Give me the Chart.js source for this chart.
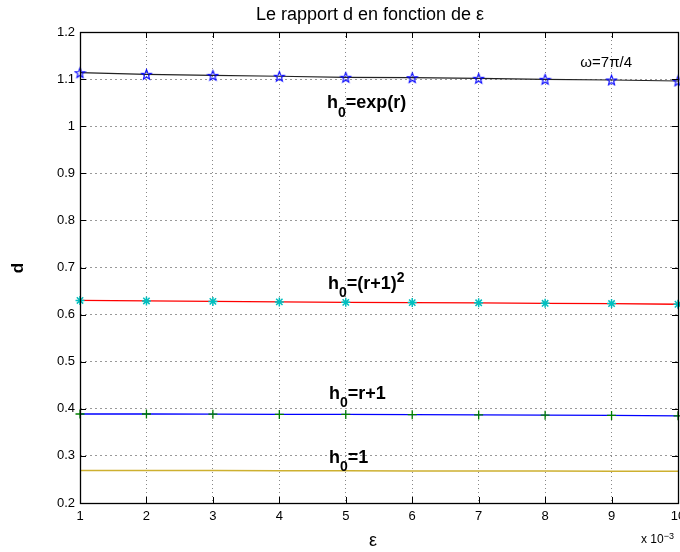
<!DOCTYPE html>
<html>
<head>
<meta charset="utf-8">
<script src="https://cdn.jsdelivr.net/npm/chart.js@4.4.1/dist/chart.umd.min.js"></script>
<style>
  html, body { margin: 0; padding: 0; background: #fff; }
</style>
</head>
<body>
<canvas id="rapportChart" width="680" height="552"></canvas>
<script>
// epsilon (x 10^-3)
const epsValues = [1, 2, 3, 4, 5, 6, 7, 8, 9, 10];

// d for each h0
const dExp    = [1.1136, 1.1102, 1.108, 1.106, 1.1038, 1.103, 1.1017, 1.0996, 1.0981, 1.096];
const dSquare = [0.630, 0.629, 0.628, 0.627, 0.626, 0.6255, 0.625, 0.624, 0.6235, 0.622];
const dLinear = [0.389, 0.389, 0.3885, 0.388, 0.388, 0.3875, 0.387, 0.3865, 0.386, 0.385];
const dConst  = [0.269, 0.269, 0.2688, 0.2686, 0.2684, 0.2682, 0.268, 0.2678, 0.2676, 0.2675];

const xTicks = [1, 2, 3, 4, 5, 6, 7, 8, 9, 10];
const yTicks = [0.2, 0.3, 0.4, 0.5, 0.6, 0.7, 0.8, 0.9, 1.0, 1.1, 1.2];

const FONT = '"Liberation Sans", Arial, Helvetica, sans-serif';

// blue 5-point star marker
const starImg = document.createElement('canvas');
starImg.width = 13; starImg.height = 13;
const sctx = starImg.getContext('2d');
sctx.strokeStyle = '#0000ff';
sctx.lineWidth = 1.1;
sctx.beginPath();
for (let i = 0; i < 10; i++) {
  const r = i % 2 === 0 ? 5.2 : 2.2;
  const a = -Math.PI / 2 + i * Math.PI / 5;
  const px = 6.5 + r * Math.cos(a), py = 7 + r * Math.sin(a);
  if (i === 0) sctx.moveTo(px, py); else sctx.lineTo(px, py);
}
sctx.closePath();
sctx.stroke();

function toPoints(ys) {
  return epsValues.map((x, i) => ({ x: x, y: ys[i] }));
}

// text with sub/superscripts
function drawRich(ctx, parts, x, y, size, bold) {
  let cx = x;
  parts.forEach(p => {
    const small = p.sub || p.sup;
    const fs = small ? Math.round(size * 0.75) : size;
    ctx.font = (bold ? 'bold ' : '') + fs + 'px ' + FONT;
    const dy = p.sub ? size * 0.47 : (p.sup ? -size * 0.36 : 0);
    ctx.fillText(p.t, cx, y + dy);
    cx += ctx.measureText(p.t).width;
  });
}

const decorations = {
  id: 'decorations',
  afterDraw(chart) {
    const ctx = chart.ctx;
    const area = chart.chartArea;
    const xs = chart.scales.x, ys = chart.scales.y;
    ctx.save();

    // box
    ctx.strokeStyle = '#000';
    ctx.lineWidth = 1.3;
    ctx.strokeRect(Math.round(area.left) + 0.5, Math.round(area.top) + 0.5,
      Math.round(area.right - area.left), Math.round(area.bottom - area.top));

    // inward ticks on all sides
    ctx.lineWidth = 1;
    ctx.beginPath();
    xTicks.forEach(v => {
      const px = Math.round(xs.getPixelForValue(v)) + 0.5;
      ctx.moveTo(px, area.bottom); ctx.lineTo(px, area.bottom - 6);
      ctx.moveTo(px, area.top); ctx.lineTo(px, area.top + 6);
    });
    yTicks.forEach(v => {
      const py = Math.round(ys.getPixelForValue(v)) + 0.5;
      ctx.moveTo(area.left, py); ctx.lineTo(area.left + 6, py);
      ctx.moveTo(area.right, py); ctx.lineTo(area.right - 6, py);
    });
    ctx.stroke();

    ctx.fillStyle = '#000';
    ctx.textBaseline = 'alphabetic';

    // x tick labels (drawn here so the last one may run past the edge)
    ctx.font = '13px ' + FONT;
    ctx.textAlign = 'center';
    xTicks.forEach(v => {
      ctx.fillText(String(v), xs.getPixelForValue(v), area.bottom + 17);
    });

    // title
    ctx.font = '18px ' + FONT;
    ctx.fillText('Le rapport d en fonction de \u03b5', 370, 20);

    // x label
    ctx.font = '18px ' + FONT;
    ctx.fillText('\u03b5', 373, 546);

    // y label
    ctx.save();
    ctx.translate(23, 268);
    ctx.rotate(-Math.PI / 2);
    ctx.font = 'bold 17px ' + FONT;
    ctx.fillText('d', 0, 0);
    ctx.restore();

    // exponent
    ctx.textAlign = 'left';
    drawRich(ctx, [{ t: 'x 10' }, { t: '\u22123', sup: true }], 641, 543, 12, false);

    // curve labels
    const labels = [
      { x: 8.53, y: 1.1263, parts: [{ t: '\u03c9=7\u03c0/4' }], size: 15, bold: false },
      { x: 4.718, y: 1.038, parts: [{ t: 'h' }, { t: '0', sub: true }, { t: '=exp(r)' }], size: 18, bold: true },
      { x: 4.733, y: 0.655, parts: [{ t: 'h' }, { t: '0', sub: true }, { t: '=(r+1)' }, { t: '2', sup: true }], size: 18, bold: true },
      { x: 4.748, y: 0.4215, parts: [{ t: 'h' }, { t: '0', sub: true }, { t: '=r+1' }], size: 18, bold: true },
      { x: 4.748, y: 0.285, parts: [{ t: 'h' }, { t: '0', sub: true }, { t: '=1' }], size: 18, bold: true }
    ];
    labels.forEach(l => {
      drawRich(ctx, l.parts, xs.getPixelForValue(l.x), ys.getPixelForValue(l.y), l.size, l.bold);
    });

    ctx.restore();
  }
};

const data = {
  datasets: [
    {
      label: 'h0=1',
      data: toPoints(dConst),
      borderColor: '#cdb030',
      borderWidth: 1.5,
      pointRadius: 0,
      clip: false
    },
    {
      label: 'h0=r+1',
      data: toPoints(dLinear),
      borderColor: '#0000ff',
      borderWidth: 1.3,
      pointStyle: 'cross',
      pointRadius: 4.5,
      pointBorderColor: '#008000',
      pointBorderWidth: 1.3,
      clip: false
    },
    {
      label: 'h0=(r+1)^2',
      data: toPoints(dSquare),
      borderColor: '#ff0000',
      borderWidth: 1.3,
      pointStyle: 'star',
      pointRadius: 4.5,
      pointBorderColor: '#00bfbf',
      pointBorderWidth: 1.5,
      clip: false
    },
    {
      label: 'h0=exp(r)',
      data: toPoints(dExp),
      borderColor: '#222222',
      borderWidth: 1.2,
      pointStyle: starImg,
      pointRadius: 5,
      clip: false
    }
  ]
};

const tickFont = { size: 13, family: FONT };

const config = {
  type: 'line',
  data,
  options: {
    responsive: false,
    devicePixelRatio: 1,
    animation: false,
    layout: { autoPadding: false, padding: { top: 32, right: 2, left: 0, bottom: 0 } },
    plugins: {
      legend: { display: false },
      tooltip: { enabled: false },
      title: { display: false }
    },
    scales: {
      x: {
        type: 'linear',
        min: 1,
        max: 10,
        afterBuildTicks: s => { s.ticks = xTicks.map(v => ({ value: v })); },
        afterFit: s => { s.height = 49; },
        grid: { color: '#888888', drawTicks: false, lineWidth: 1 },
        border: { display: false, dash: [1, 3] },
        ticks: { display: false }
      },
      y: {
        min: 0.2,
        max: 1.2,
        afterBuildTicks: s => { s.ticks = yTicks.map(v => ({ value: v })); },
        afterFit: s => { s.width = 80; s.paddingTop = 0; s.paddingBottom = 0; },
        grid: { color: '#999999', drawTicks: false, lineWidth: 1 },
        border: { display: false, dash: [2, 3] },
        ticks: {
          color: '#000',
          font: tickFont,
          padding: 5,
          autoSkip: false,
          callback: v => String(Math.round(v * 10) / 10)
        }
      }
    }
  },
  plugins: [decorations]
};

new Chart(document.getElementById('rapportChart'), config);
</script>
</body>
</html>
